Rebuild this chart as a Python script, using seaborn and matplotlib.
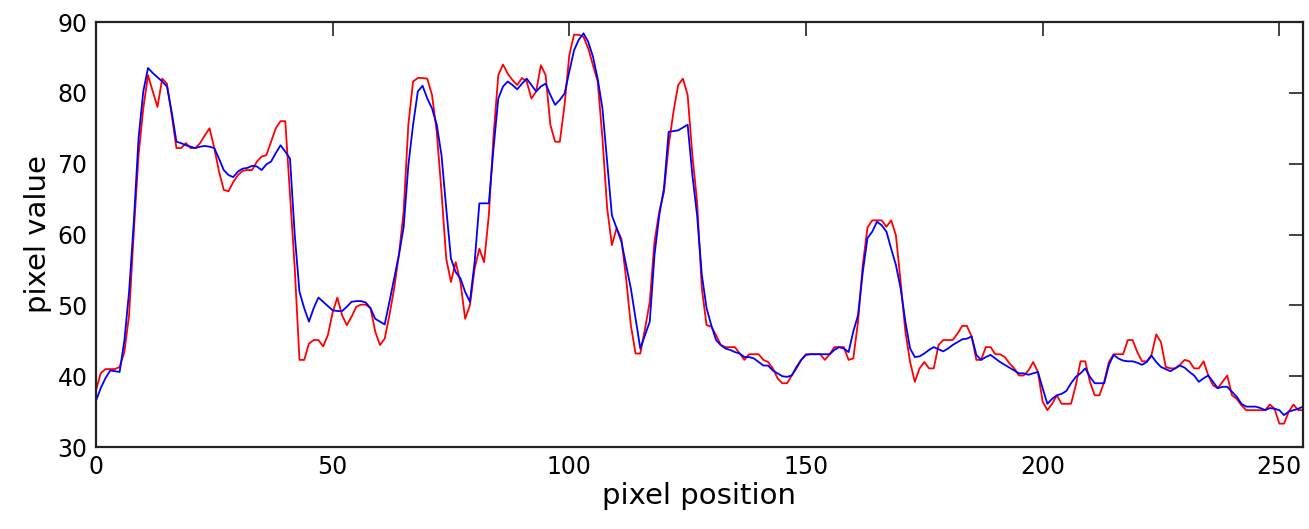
import numpy as np
import pandas as pd
import matplotlib
matplotlib.use("Agg")
import matplotlib.pyplot as plt
import seaborn as sns

# raw pixel values along the scan line (red) and smoothed values (blue)
raw_values = [
    38, 40.4, 41, 41, 41, 41.3, 43.4, 48.6, 60.4, 71.2,
    77.8, 82.5, 80.2, 78, 82, 81.3, 76.9, 72.2, 72.2, 72.9,
    72.2, 72.2, 72.9, 74, 75, 72.2, 68.9, 66.3, 66.1, 67.4,
    68.4, 69, 69.1, 69.1, 70.3, 71, 71.2, 73.1, 75, 76,
    76, 65.6, 55.2, 42.3, 42.3, 44.6, 45.1, 45.1, 44.2, 45.8,
    49, 51.1, 48.6, 47.2, 48.4, 49.8, 50.1, 50.1, 49.6, 46.3,
    44.4, 45.3, 48.6, 52.4, 57.1, 63.2, 75.5, 81.6, 82.1, 82.1,
    82, 79.7, 74.5, 66, 56.6, 53.3, 56.1, 53.3, 48.1, 50,
    55.2, 58, 56.1, 62.7, 74, 82.5, 84, 82.7, 81.8, 81.1,
    82.1, 81.6, 79.2, 80.2, 83.9, 82.5, 75.5, 73.1, 73.1, 78.3,
    85.3, 88.2, 88.2, 87.9, 86.3, 83.9, 81.6, 73.6, 63.7, 58.5,
    60.9, 59.4, 53.8, 47.2, 43.2, 43.2, 46.7, 50.5, 59, 63.2,
    66, 72.6, 77.3, 81.1, 82, 79.7, 71.2, 64.6, 52.4, 47.2,
    47, 45.8, 44.4, 44.1, 44.1, 44.1, 43.2, 42.3, 43.1, 43.1,
    43.1, 42.3, 42, 41.1, 39.7, 39, 39, 40.1, 41.1, 42.3,
    43.1, 43.1, 43.1, 43.1, 42.3, 43.1, 44.1, 44.1, 44.1, 42.3,
    42.5, 47.7, 55.7, 61, 62, 62, 62, 61.1, 62, 59.9,
    53.3, 46.3, 42, 39.2, 41.1, 42, 41.1, 41.1, 44.4, 45.1,
    45.1, 45.1, 46, 47.1, 47.1, 45.6, 42.3, 42.3, 44.1, 44.1,
    43.1, 43.1, 42.7, 41.8, 41.1, 40.1, 40.1, 40.8, 42, 40.6,
    36.4, 35.2, 36.1, 37.3, 36.1, 36.1, 36.1, 38.7, 42.1, 42.1,
    39.2, 37.3, 37.3, 39.2, 42, 43.1, 43.1, 43.1, 45.1, 45.1,
    43.4, 42.1, 42.1, 43, 45.9, 44.8, 41.3, 41.1, 41.1, 41.6,
    42.3, 42.1, 41.1, 41.1, 42.1, 40.1, 38.7, 38.3, 39.2, 40.1,
    37.3, 36.8, 35.9, 35.2, 35.2, 35.2, 35.2, 35.2, 36, 35.4,
    33.3, 33.3, 35, 36, 35.2, 35.2,
]

smoothed_values = [
    36.5, 38.3, 39.7, 40.8, 40.7, 40.6, 45, 51.9, 61.8, 73.6,
    80.2, 83.5, 82.8, 82.2, 81.6, 80.9, 77.3, 73.1, 72.9, 72.6,
    72.4, 72.2, 72.4, 72.5, 72.4, 72.2, 70.7, 69.1, 68.4, 68.1,
    68.9, 69.3, 69.4, 69.7, 69.6, 69.1, 69.9, 70.3, 71.5, 72.6,
    71.7, 70.7, 59.9, 51.9, 49.6, 47.7, 49.6, 51.1, 50.5, 49.9,
    49.3, 49.2, 49.2, 49.8, 50.5, 50.6, 50.6, 50.4, 49.6, 48.1,
    47.7, 47.3, 50.5, 53.8, 57.1, 61, 69.8, 75.5, 80.2, 81,
    79.2, 77.8, 75.5, 71.2, 63.7, 56.6, 54.7, 53.8, 51.9, 50.5,
    56.1, 64.4, 64.4, 64.4, 72.2, 79.2, 80.9, 81.6, 81.1, 80.5,
    81.3, 82, 81.1, 80.2, 80.9, 81.3, 79.7, 78.3, 79, 79.9,
    83, 86, 87.5, 88.4, 87.2, 85.1, 82, 77.8, 70.3, 62.7,
    60.9, 59, 55.7, 52.4, 48.1, 43.9, 45.8, 47.7, 57.1, 62.7,
    66.5, 74.5, 74.6, 74.7, 75.1, 75.5, 68.4, 62.7, 54.3, 49.6,
    47.2, 45.1, 44.4, 43.9, 43.7, 43.4, 43.2, 42.7, 42.7, 42.5,
    42, 41.5, 41.5, 40.8, 40.4, 40, 39.9, 40.1, 41.3, 42.3,
    43, 43.1, 43.1, 43.1, 43.1, 43.1, 43.7, 44.1, 43.9, 43.4,
    46.3, 48.6, 54.7, 59.5, 60.4, 61.8, 61.3, 60.4, 58, 55.7,
    52.4, 47.7, 43.9, 42.7, 42.8, 43.2, 43.7, 44.1, 43.8, 43.5,
    43.9, 44.4, 44.8, 45.2, 45.3, 45.6, 43, 42.3, 42.7, 43,
    42.5, 42, 41.6, 41.2, 40.8, 40.4, 40.4, 40.2, 40.4, 40.6,
    38.3, 36.1, 36.8, 37.3, 37.5, 37.9, 39, 39.9, 40.4, 41.1,
    39.9, 39, 39, 39, 41.6, 43, 42.5, 42.2, 42.1, 42.1,
    41.9, 41.6, 42, 42.9, 42, 41.3, 41, 40.7, 41.1, 41.5,
    41.2, 40.6, 40.1, 39.2, 39.7, 40.1, 39.2, 38.3, 38.5, 38.5,
    37.8, 37.1, 36.1, 35.7, 35.7, 35.7, 35.5, 35.2, 35.5, 35.4,
    35.2, 34.5, 35, 35.2, 35.4, 35.7,
]

positions = np.arange(len(raw_values))
df = pd.DataFrame({"position": positions, "raw": raw_values, "smooth": smoothed_values})

sns.set_style("white")
plt.rcParams['font.family'] = ['DejaVu Sans']

fig = plt.figure(figsize=(13.09, 5.29), dpi=100)
ax = fig.add_axes([0.0733, 0.155, 0.9221, 0.8034])

sns.lineplot(x="position", y="raw", data=df, color="red", linewidth=1.3, ax=ax)
sns.lineplot(x="position", y="smooth", data=df, color="blue", linewidth=1.3, ax=ax)

ax.set_xlim(0, 255)
ax.set_ylim(30, 90)
ax.set_xticks([0, 50, 100, 150, 200, 250])
ax.set_yticks([30, 40, 50, 60, 70, 80, 90])
ax.set_xlabel("pixel position", fontsize=21, labelpad=2, color="black")
ax.set_ylabel("pixel value", fontsize=21, labelpad=4, color="black")
ax.tick_params(direction="in", top=True, right=True, length=10, width=1.2,
               labelsize=17, color="#222222", labelcolor="black", pad=6)
for s in ax.spines.values():
    s.set_linewidth(1.6)
    s.set_color("#222222")

fig.savefig("out.png", dpi=100)
